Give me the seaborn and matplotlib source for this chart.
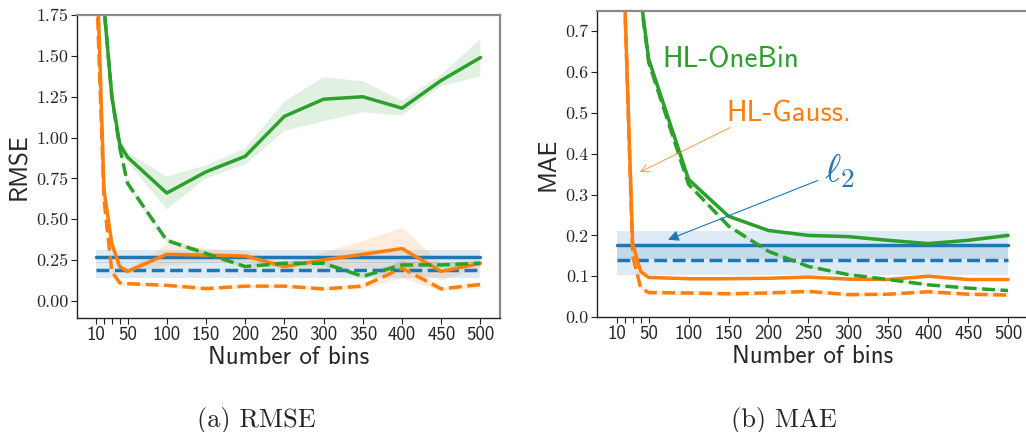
import matplotlib
matplotlib.use("Agg")
import matplotlib.pyplot as plt
import numpy as np
import pandas as pd
import seaborn as sns

# ---- data -------------------------------------------------------------
bins = [10, 20, 30, 40, 50, 100, 150, 200, 250, 300, 350, 400, 450, 500]
x_tick_labels = ["10", "", "", "", "50", "100", "150", "200", "250",
                 "300", "350", "400", "450", "500"]

rmse_yticks = [0.0, 0.25, 0.5, 0.75, 1.0, 1.25, 1.5, 1.75]
rmse_ytick_labels = ["0.00", "0.25", "0.50", "0.75", "1.00", "1.25", "1.50", "1.75"]
mae_yticks = [0.0, 0.1, 0.2, 0.3, 0.4, 0.5, 0.6, 0.7]
mae_ytick_labels = ["0.0", "0.1", "0.2", "0.3", "0.4", "0.5", "0.6", "0.7"]

# RMSE (solid = test, dashed = train) and band half-widths
rmse_l2_test = [0.27] * 14
rmse_l2_test_sd = [0.04] * 14
rmse_l2_train = [0.19] * 14
rmse_l2_train_sd = [0.05] * 14
rmse_gauss_test = [2.2, 0.68, 0.35, 0.21, 0.18, 0.285, 0.28, 0.275, 0.21, 0.25, 0.285, 0.32, 0.18, 0.23]
rmse_gauss_test_sd = [0.05, 0.04, 0.03, 0.02, 0.015, 0.065, 0.045, 0.035, 0.025, 0.05, 0.085, 0.13, 0.05, 0.025]
rmse_gauss_train = [2.0, 0.62, 0.18, 0.11, 0.105, 0.095, 0.075, 0.09, 0.09, 0.073, 0.09, 0.20, 0.073, 0.10]
rmse_gauss_train_sd = [0.05, 0.03, 0.02, 0.015, 0.012, 0.01, 0.01, 0.01, 0.01, 0.01, 0.015, 0.06, 0.012, 0.02]
rmse_onebin_test = [3.5, 1.80, 1.25, 0.96, 0.88, 0.66, 0.79, 0.885, 1.13, 1.235, 1.25, 1.18, 1.35, 1.49]
rmse_onebin_test_sd = [0.1, 0.1, 0.05, 0.04, 0.03, 0.10, 0.04, 0.05, 0.09, 0.135, 0.095, 0.045, 0.035, 0.115]
rmse_onebin_train = [3.4, 1.80, 1.25, 0.94, 0.72, 0.37, 0.29, 0.21, 0.23, 0.23, 0.15, 0.22, 0.22, 0.23]
rmse_onebin_train_sd = [0.05, 0.05, 0.03, 0.02, 0.02, 0.015, 0.015, 0.01, 0.015, 0.015, 0.015, 0.02, 0.015, 0.015]

# MAE (solid = test, dashed = train) and band half-widths
mae_l2_test = [0.176] * 14
mae_l2_test_sd = [0.034] * 14
mae_l2_train = [0.141] * 14
mae_l2_train_sd = [0.038] * 14
mae_gauss_test = [1.5, 0.78, 0.18, 0.112, 0.097, 0.094, 0.094, 0.095, 0.098, 0.093, 0.092, 0.10, 0.092, 0.092]
mae_gauss_test_sd = [0.02, 0.01, 0.008, 0.005, 0.004, 0.004, 0.004, 0.004, 0.004, 0.004, 0.004, 0.004, 0.004, 0.004]
mae_gauss_train = [1.5, 0.78, 0.15, 0.072, 0.06, 0.059, 0.057, 0.059, 0.063, 0.055, 0.056, 0.062, 0.056, 0.054]
mae_gauss_train_sd = [0.02, 0.01, 0.008, 0.005, 0.005, 0.005, 0.005, 0.005, 0.005, 0.005, 0.005, 0.005, 0.005, 0.005]
mae_onebin_test = [3.0, 2.0, 1.2, 0.785, 0.632, 0.337, 0.247, 0.212, 0.20, 0.197, 0.188, 0.18, 0.188, 0.20]
mae_onebin_test_sd = [0.05, 0.04, 0.03, 0.02, 0.012, 0.008, 0.005, 0.004, 0.004, 0.004, 0.004, 0.004, 0.004, 0.006]
mae_onebin_train = [3.0, 2.0, 1.2, 0.78, 0.624, 0.325, 0.223, 0.161, 0.124, 0.104, 0.092, 0.079, 0.071, 0.065]
mae_onebin_train_sd = [0.05, 0.04, 0.03, 0.02, 0.01, 0.006, 0.004, 0.003, 0.003, 0.003, 0.003, 0.003, 0.003, 0.003]

methods = ["l2", "gauss", "onebin"]
palette = {"l2": "#1f77b4", "gauss": "#ff7f0e", "onebin": "#2ca02c"}

rmse_series = {
    ("l2", "test"): (rmse_l2_test, rmse_l2_test_sd),
    ("l2", "train"): (rmse_l2_train, rmse_l2_train_sd),
    ("gauss", "test"): (rmse_gauss_test, rmse_gauss_test_sd),
    ("gauss", "train"): (rmse_gauss_train, rmse_gauss_train_sd),
    ("onebin", "test"): (rmse_onebin_test, rmse_onebin_test_sd),
    ("onebin", "train"): (rmse_onebin_train, rmse_onebin_train_sd),
}
mae_series = {
    ("l2", "test"): (mae_l2_test, mae_l2_test_sd),
    ("l2", "train"): (mae_l2_train, mae_l2_train_sd),
    ("gauss", "test"): (mae_gauss_test, mae_gauss_test_sd),
    ("gauss", "train"): (mae_gauss_train, mae_gauss_train_sd),
    ("onebin", "test"): (mae_onebin_test, mae_onebin_test_sd),
    ("onebin", "train"): (mae_onebin_train, mae_onebin_train_sd),
}

# ---- style ------------------------------------------------------------
sns.set_theme(style="white")
plt.rcParams["mathtext.fontset"] = "cm"
SERIF = "cmr10"
SANS = "cmss10"


def to_frame(series):
    rows = []
    for (method, split), (vals, sd) in series.items():
        for b, v, s in zip(bins, vals, sd):
            rows.append({"bins": b, "value": v, "sd": s,
                         "method": method, "split": split})
    return pd.DataFrame(rows)


def draw_panel(ax, series, ylabel, yticks, ylabels, ylim):
    df = to_frame(series)
    for (method, split), g in df.groupby(["method", "split"]):
        ax.fill_between(g["bins"], g["value"] - g["sd"], g["value"] + g["sd"],
                        color=palette[method], alpha=0.14, lw=0)
    sns.lineplot(data=df, x="bins", y="value", hue="method", style="split",
                 hue_order=methods, style_order=["test", "train"],
                 palette=palette, dashes={"test": "", "train": (3.7, 1.6)},
                 linewidth=2.5, legend=False, errorbar=None, ax=ax)
    ax.set_ylim(*ylim)
    ax.set_xticks(bins)
    ax.set_xticklabels(x_tick_labels, fontfamily=SANS, fontsize=13.5)
    ax.set_yticks(yticks)
    ax.set_yticklabels(ylabels, fontfamily=SERIF, fontsize=13)
    ax.set_xlabel("Number of bins", fontfamily=SANS, fontsize=18, labelpad=1)
    ax.set_ylabel(ylabel, fontfamily=SANS, fontsize=18, labelpad=4)
    ax.tick_params(axis="both", direction="out", length=4, width=0.8,
                   color="#222222", pad=2, bottom=True, left=True)
    for side in ("left", "bottom"):
        ax.spines[side].set_color("#222222")
        ax.spines[side].set_linewidth(1.0)
    for side in ("top", "right"):
        ax.spines[side].set_color("#8a8a8a")
        ax.spines[side].set_linewidth(1.6)


fig = plt.figure(figsize=(10.26, 4.32), dpi=100)
ax_rmse = fig.add_axes([0.075, 0.264, 0.412, 0.701])
ax_mae = fig.add_axes([0.582, 0.266, 0.4196, 0.709])

draw_panel(ax_rmse, rmse_series, "RMSE", rmse_yticks, rmse_ytick_labels, (-0.105, 1.75))
draw_panel(ax_mae, mae_series, "MAE", mae_yticks, mae_ytick_labels, (0.0, 0.75))

# annotations on the MAE panel
ax_mae.text(67, 0.612, "HL-OneBin", color=palette["onebin"], fontfamily=SANS,
            fontsize=21, ha="left", va="baseline")
ax_mae.text(147, 0.478, "HL-Gauss.", color=palette["gauss"], fontfamily=SANS,
            fontsize=21, ha="left", va="baseline")
ax_mae.text(270, 0.332, r"$\ell_2$", color=palette["l2"], fontsize=28,
            ha="left", va="baseline")
ax_mae.annotate("", xy=(36, 0.352), xytext=(155, 0.467),
                arrowprops=dict(arrowstyle="->", color=palette["gauss"],
                                lw=0.7, alpha=0.8, mutation_scale=14))
ax_mae.annotate("", xy=(71, 0.187), xytext=(265, 0.337),
                arrowprops=dict(arrowstyle="-|>", color=palette["l2"],
                                lw=0.8, mutation_scale=16))

# sub-captions
fig.text(256 / 1026, 0.012, "(a) RMSE", fontfamily=SERIF, fontsize=19,
         ha="center", va="baseline")
fig.text(784 / 1026, 0.012, "(b) MAE", fontfamily=SERIF, fontsize=19,
         ha="center", va="baseline")

fig.savefig("out.png", dpi=100)
